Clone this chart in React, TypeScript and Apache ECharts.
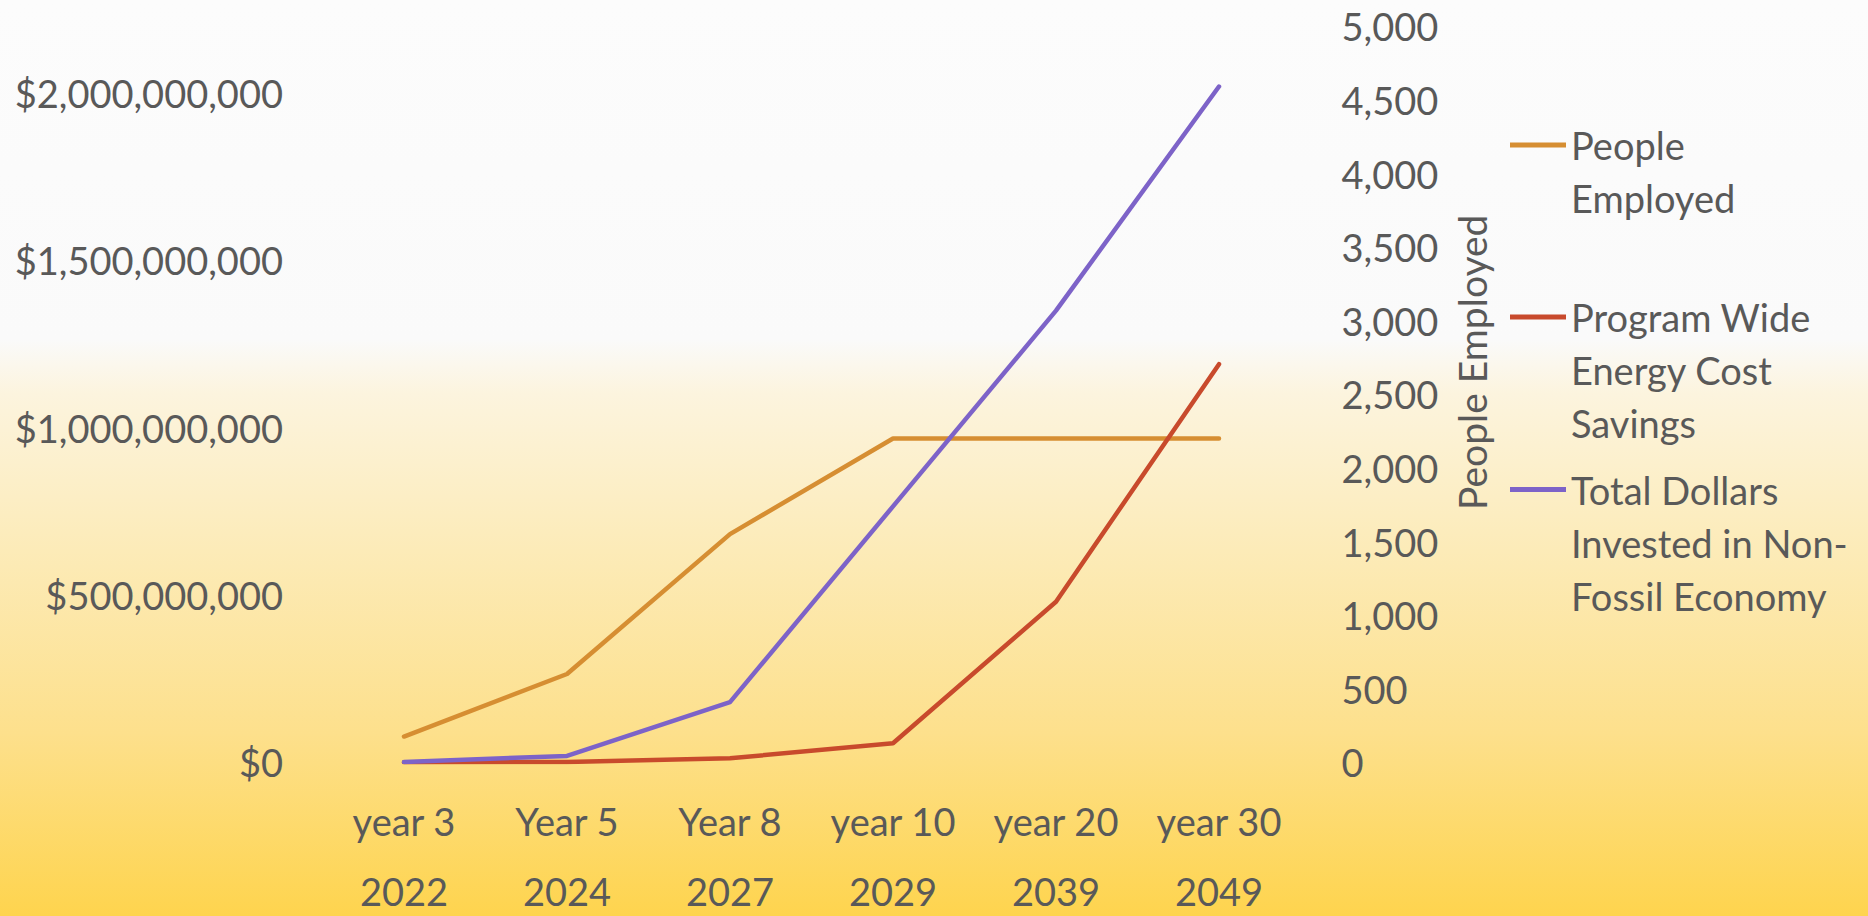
import React, { useEffect, useRef } from "react";
import * as echarts from "echarts";

const categories = ["year 3", "Year 5", "Year 8", "year 10", "year 20", "year 30"];
const calendarYears = ["2022", "2024", "2027", "2029", "2039", "2049"];

const peopleEmployed = [175, 600, 1550, 2200, 2200, 2200];
const energyCostSavings = [0, 1000000, 12000000, 57000000, 480000000, 1190000000];
const dollarsInvested = [1000000, 19000000, 180000000, 765000000, 1350000000, 2020000000];

const seriesNames = [
  "People Employed",
  "Program Wide Energy Cost Savings",
  "Total Dollars Invested in Non-Fossil Economy",
];
const legendLines = [
  ["People", "Employed"],
  ["Program Wide", "Energy Cost", "Savings"],
  ["Total Dollars", "Invested in Non-", "Fossil Economy"],
];
const seriesColors = ["#D68E32", "#C84A2C", "#7D63C8"];

const FONT = "Lato, 'Open Sans', sans-serif";
const TEXT_COLOR = "#595959";
const LEGEND_LH = 53;
const legendIconY = [145, 317, 489.5];

export default function App() {
  const ref = useRef<HTMLDivElement>(null);

  useEffect(() => {
    document.body.style.margin = "0";
    if (!ref.current) return;
    const chart = echarts.init(ref.current, null, { renderer: "svg" });

    const legends = seriesNames.map((name, i) => {
      const n = legendLines[i].length;
      const h = (2 * n - 1) * LEGEND_LH;
      // blank lines before the text so that the icon sits beside the first line
      const text = "\n".repeat(n - 1) + legendLines[i].join("\n");
      return {
        data: [name],
        orient: "vertical",
        left: 1510,
        top: legendIconY[i] - h / 2,
        padding: 0,
        icon: "rect",
        itemWidth: 56,
        itemHeight: 5,
        selectedMode: false,
        formatter: () => text,
        textStyle: {
          fontFamily: FONT,
          fontSize: 38,
          lineHeight: LEGEND_LH,
          color: TEXT_COLOR,
        },
      };
    });

    const lineSeries = (idx: number, data: number[], yAxisIndex: number) => ({
      name: seriesNames[idx],
      type: "line",
      yAxisIndex,
      data,
      symbol: "none",
      lineStyle: { width: 4.5, color: seriesColors[idx], cap: "round", join: "round" },
      itemStyle: { color: seriesColors[idx] },
    });

    chart.setOption({
      animation: false,
      backgroundColor: {
        type: "linear",
        x: 0,
        y: 0,
        x2: 0,
        y2: 1,
        colorStops: [
          { offset: 0, color: "#FCFCFC" },
          { offset: 0.37, color: "#FAFAFA" },
          { offset: 0.43, color: "#FCF4DE" },
          { offset: 0.6, color: "#FCEBB8" },
          { offset: 0.8, color: "#FDE08C" },
          { offset: 1, color: "#FED44E" },
        ],
      },
      textStyle: { fontFamily: FONT },
      grid: {
        left: 322.5,
        right: 567.5,
        top: 26.3,
        bottom: 153.7,
        containLabel: false,
        outerBoundsMode: "none",
      },
      legend: legends,
      xAxis: {
        type: "category",
        data: categories,
        boundaryGap: true,
        axisLine: { show: false },
        axisTick: { show: false },
        splitLine: { show: false },
        axisLabel: {
          interval: 0,
          margin: 24,
          fontFamily: FONT,
          fontSize: 38,
          lineHeight: 70,
          color: TEXT_COLOR,
          formatter: (v: string, i: number) => `${v}\n${calendarYears[i]}`,
        },
      },
      yAxis: [
        {
          type: "value",
          position: "left",
          min: 0,
          max: 2200000000,
          interval: 500000000,
          axisLine: { show: false },
          axisTick: { show: false },
          splitLine: { show: false },
          axisLabel: {
            margin: 39.5,
            showMaxLabel: false,
            fontFamily: FONT,
            fontSize: 38,
            color: TEXT_COLOR,
            formatter: (v: number) => "$" + v.toLocaleString("en-US"),
          },
        },
        {
          type: "value",
          position: "right",
          min: 0,
          max: 5000,
          interval: 500,
          name: "People Employed",
          nameLocation: "middle",
          nameRotate: 90,
          nameGap: 152,
          nameTextStyle: {
            fontFamily: FONT,
            fontSize: 39,
            color: TEXT_COLOR,
            padding: [0, 0, 0, 64],
          },
          axisLine: { show: false },
          axisTick: { show: false },
          splitLine: { show: false },
          axisLabel: {
            margin: 41,
            fontFamily: FONT,
            fontSize: 38,
            color: TEXT_COLOR,
            formatter: (v: number) => v.toLocaleString("en-US"),
          },
        },
      ],
      series: [
        lineSeries(0, peopleEmployed, 1),
        lineSeries(1, energyCostSavings, 0),
        lineSeries(2, dollarsInvested, 0),
      ],
    });

    return () => chart.dispose();
  }, []);

  return <div ref={ref} style={{ width: 1868, height: 916 }} />;
}
